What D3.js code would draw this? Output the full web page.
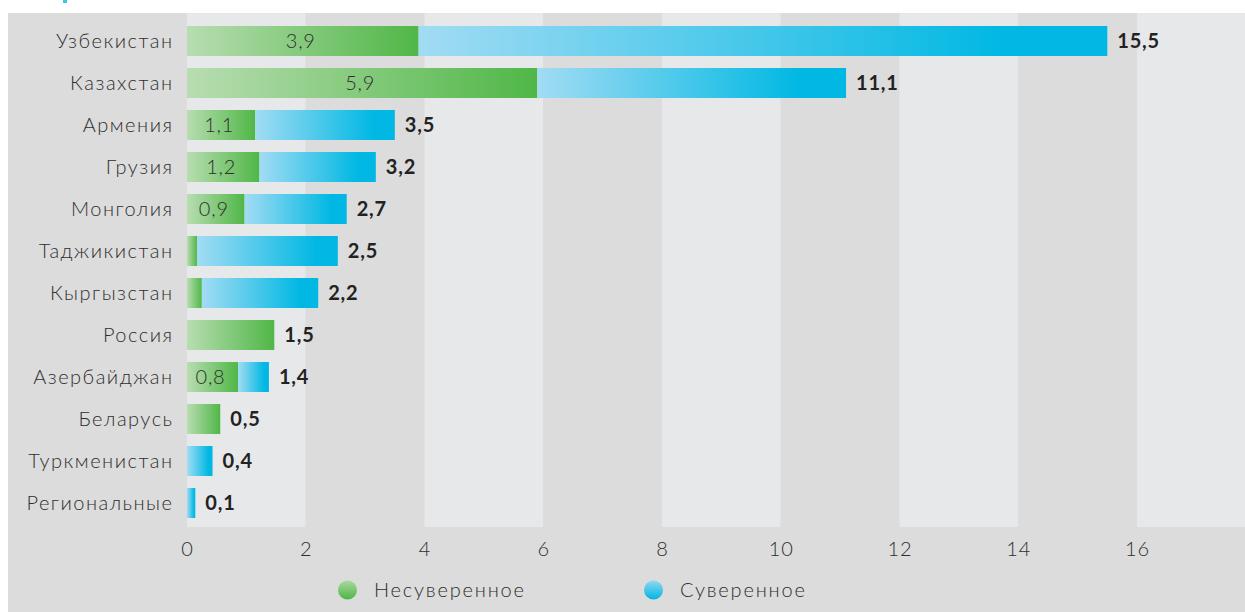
<!DOCTYPE html>
<html><head><meta charset="utf-8">
<script src="https://cdn.jsdelivr.net/npm/d3@7/dist/d3.min.js"></script>
<style>
html,body{margin:0;padding:0;background:#fff;}
svg{display:block;font-family:Lato,"Open Sans",sans-serif;}
</style></head>
<body>
<svg id="c" width="1245" height="612"></svg>
<script>
const categories = ["Узбекистан","Казахстан","Армения","Грузия","Монголия","Таджикистан","Кыргызстан","Россия","Азербайджан","Беларусь","Туркменистан","Региональные"];
const nonSovereign = [3.9, 5.9, 1.15, 1.22, 0.97, 0.17, 0.25, 1.47, 0.86, 0.56, 0, 0];
const sovereign    = [11.6, 5.2, 2.35, 1.96, 1.72, 2.37, 1.96, 0, 0.52, 0, 0.43, 0.14];
const innerLabels  = ["3,9","5,9","1,1","1,2","0,9","","","","0,8","","",""];
const totalLabels  = ["15,5","11,1","3,5","3,2","2,7","2,5","2,2","1,5","1,4","0,5","0,4","0,1"];
const xTicks = [0,2,4,6,8,10,12,14,16];
const seriesNames = ["Несуверенное","Суверенное"];

const W = 1245, H = 612;
const svg = d3.select("#c");
const defs = svg.append("defs");

function linGrad(id, c0, c1, stop1){
  const g = defs.append("linearGradient").attr("id", id).attr("x1","0").attr("x2","1").attr("y1","0").attr("y2","0");
  g.append("stop").attr("offset","0%").attr("stop-color",c0);
  g.append("stop").attr("offset",stop1).attr("stop-color",c1);
  g.append("stop").attr("offset","100%").attr("stop-color",c1);
}
linGrad("gGreen", "#b8ddb1", "#50b747", "100%");
linGrad("gBlue", "#a2dcf3", "#00b8e3", "85%");
function vGrad(id,c0,c1){
  const g = defs.append("linearGradient").attr("id", id).attr("x1","0").attr("x2","0").attr("y1","0").attr("y2","1");
  g.append("stop").attr("offset","0%").attr("stop-color",c0);
  g.append("stop").attr("offset","100%").attr("stop-color",c1);
}
vGrad("lGreen","#a8d9a0","#4db544");
vGrad("lBlue","#8fd8f2","#00b5e2");

// outer panel
svg.append("rect").attr("x",8).attr("y",13).attr("width",W-8).attr("height",H-13).attr("fill","#dcdcdc");
// small blue fragment top-left (cut-off title)
svg.append("rect").attr("x",63).attr("y",0).attr("width",4).attr("height",3).attr("fill","#3fc3ea");

const plotLeft = 187, plotTop = 13, plotBottom = 527;
const x = d3.scaleLinear().domain([0,16]).range([plotLeft, 1137]);
const y = d3.scaleBand().domain(categories).range([20, 524]).paddingInner(12/42).paddingOuter(6/42);

// alternating bands
const bandEdges = [0,2,4,6,8,10,12,14,16,18.5];
for (let i=0;i<bandEdges.length-1;i++){
  const x0 = x(bandEdges[i]), x1 = Math.min(W, x(bandEdges[i+1]));
  svg.append("rect").attr("x",x0).attr("y",plotTop).attr("width",x1-x0).attr("height",plotBottom-plotTop)
    .attr("fill", i%2===0 ? "#e7e8ea" : "#dcdcdc");
}

const rows = categories.map((c,i)=>({c, g:nonSovereign[i], b:sovereign[i], il:innerLabels[i], tl:totalLabels[i]}));

const gRows = svg.append("g");
gRows.selectAll("rect.g").data(rows.filter(d=>d.g>0)).join("rect")
  .attr("x", x(0)).attr("y", d=>y(d.c)).attr("height", y.bandwidth())
  .attr("width", d=>x(d.g)-x(0)).attr("fill","url(#gGreen)");
gRows.selectAll("rect.b").data(rows.filter(d=>d.b>0)).join("rect")
  .attr("x", d=>x(d.g)).attr("y", d=>y(d.c)).attr("height", y.bandwidth())
  .attr("width", d=>x(d.g+d.b)-x(d.g)).attr("fill","url(#gBlue)");

// inner labels
gRows.selectAll("text.il").data(rows.filter(d=>d.il)).join("text")
  .attr("x", d=>(x(0)+x(d.g))/2 - 2).attr("y", d=>y(d.c)+y.bandwidth()/2)
  .attr("dy","0.36em").attr("text-anchor","middle").attr("letter-spacing","0.8px")
  .attr("font-size",20).attr("font-weight",300).attr("fill","#2e2e2e").text(d=>d.il);

// totals
gRows.selectAll("text.tl").data(rows).join("text")
  .attr("x", d=>x(d.g+d.b)+10).attr("y", d=>y(d.c)+y.bandwidth()/2)
  .attr("dy","0.36em").attr("text-anchor","start").attr("letter-spacing","0.8px")
  .attr("font-size",20).attr("font-weight",700).attr("fill","#222").text(d=>d.tl);

// category axis
const yAxis = d3.axisLeft(y).tickSize(0).tickPadding(13.5);
const ya = svg.append("g").attr("transform",`translate(${plotLeft},0)`).call(yAxis);
ya.select(".domain").remove();
ya.selectAll("text").attr("font-size",20).attr("font-weight",300).attr("fill","#2e2e2e")
  .attr("letter-spacing","1.5px").attr("dy","0.36em").attr("font-family","Lato,'Open Sans',sans-serif");

// x axis
const xAxis = d3.axisBottom(x).tickValues(xTicks).tickSize(0).tickPadding(0).tickFormat(d=>d);
const xa = svg.append("g").attr("transform",`translate(0,${plotBottom+15})`).call(xAxis);
xa.select(".domain").remove();
xa.selectAll("text").attr("font-size",20).attr("font-weight",300).attr("fill","#2e2e2e").attr("letter-spacing","0.8px").attr("dy","0.71em").attr("font-family","Lato,'Open Sans',sans-serif");

// legend
const legend = [{n:seriesNames[0], f:"url(#lGreen)", cx:347.5},{n:seriesNames[1], f:"url(#lBlue)", cx:653.5}];
const lg = svg.append("g");
lg.selectAll("circle").data(legend).join("circle").attr("cx",d=>d.cx).attr("cy",590).attr("r",9.5).attr("fill",d=>d.f);
lg.selectAll("text").data(legend).join("text").attr("x",d=>d.cx+26.5).attr("y",590).attr("dy","0.36em")
  .attr("letter-spacing","1.8px")
  .attr("font-size",20).attr("font-weight",300).attr("fill","#2e2e2e").text(d=>d.n);
</script>
</body></html>
